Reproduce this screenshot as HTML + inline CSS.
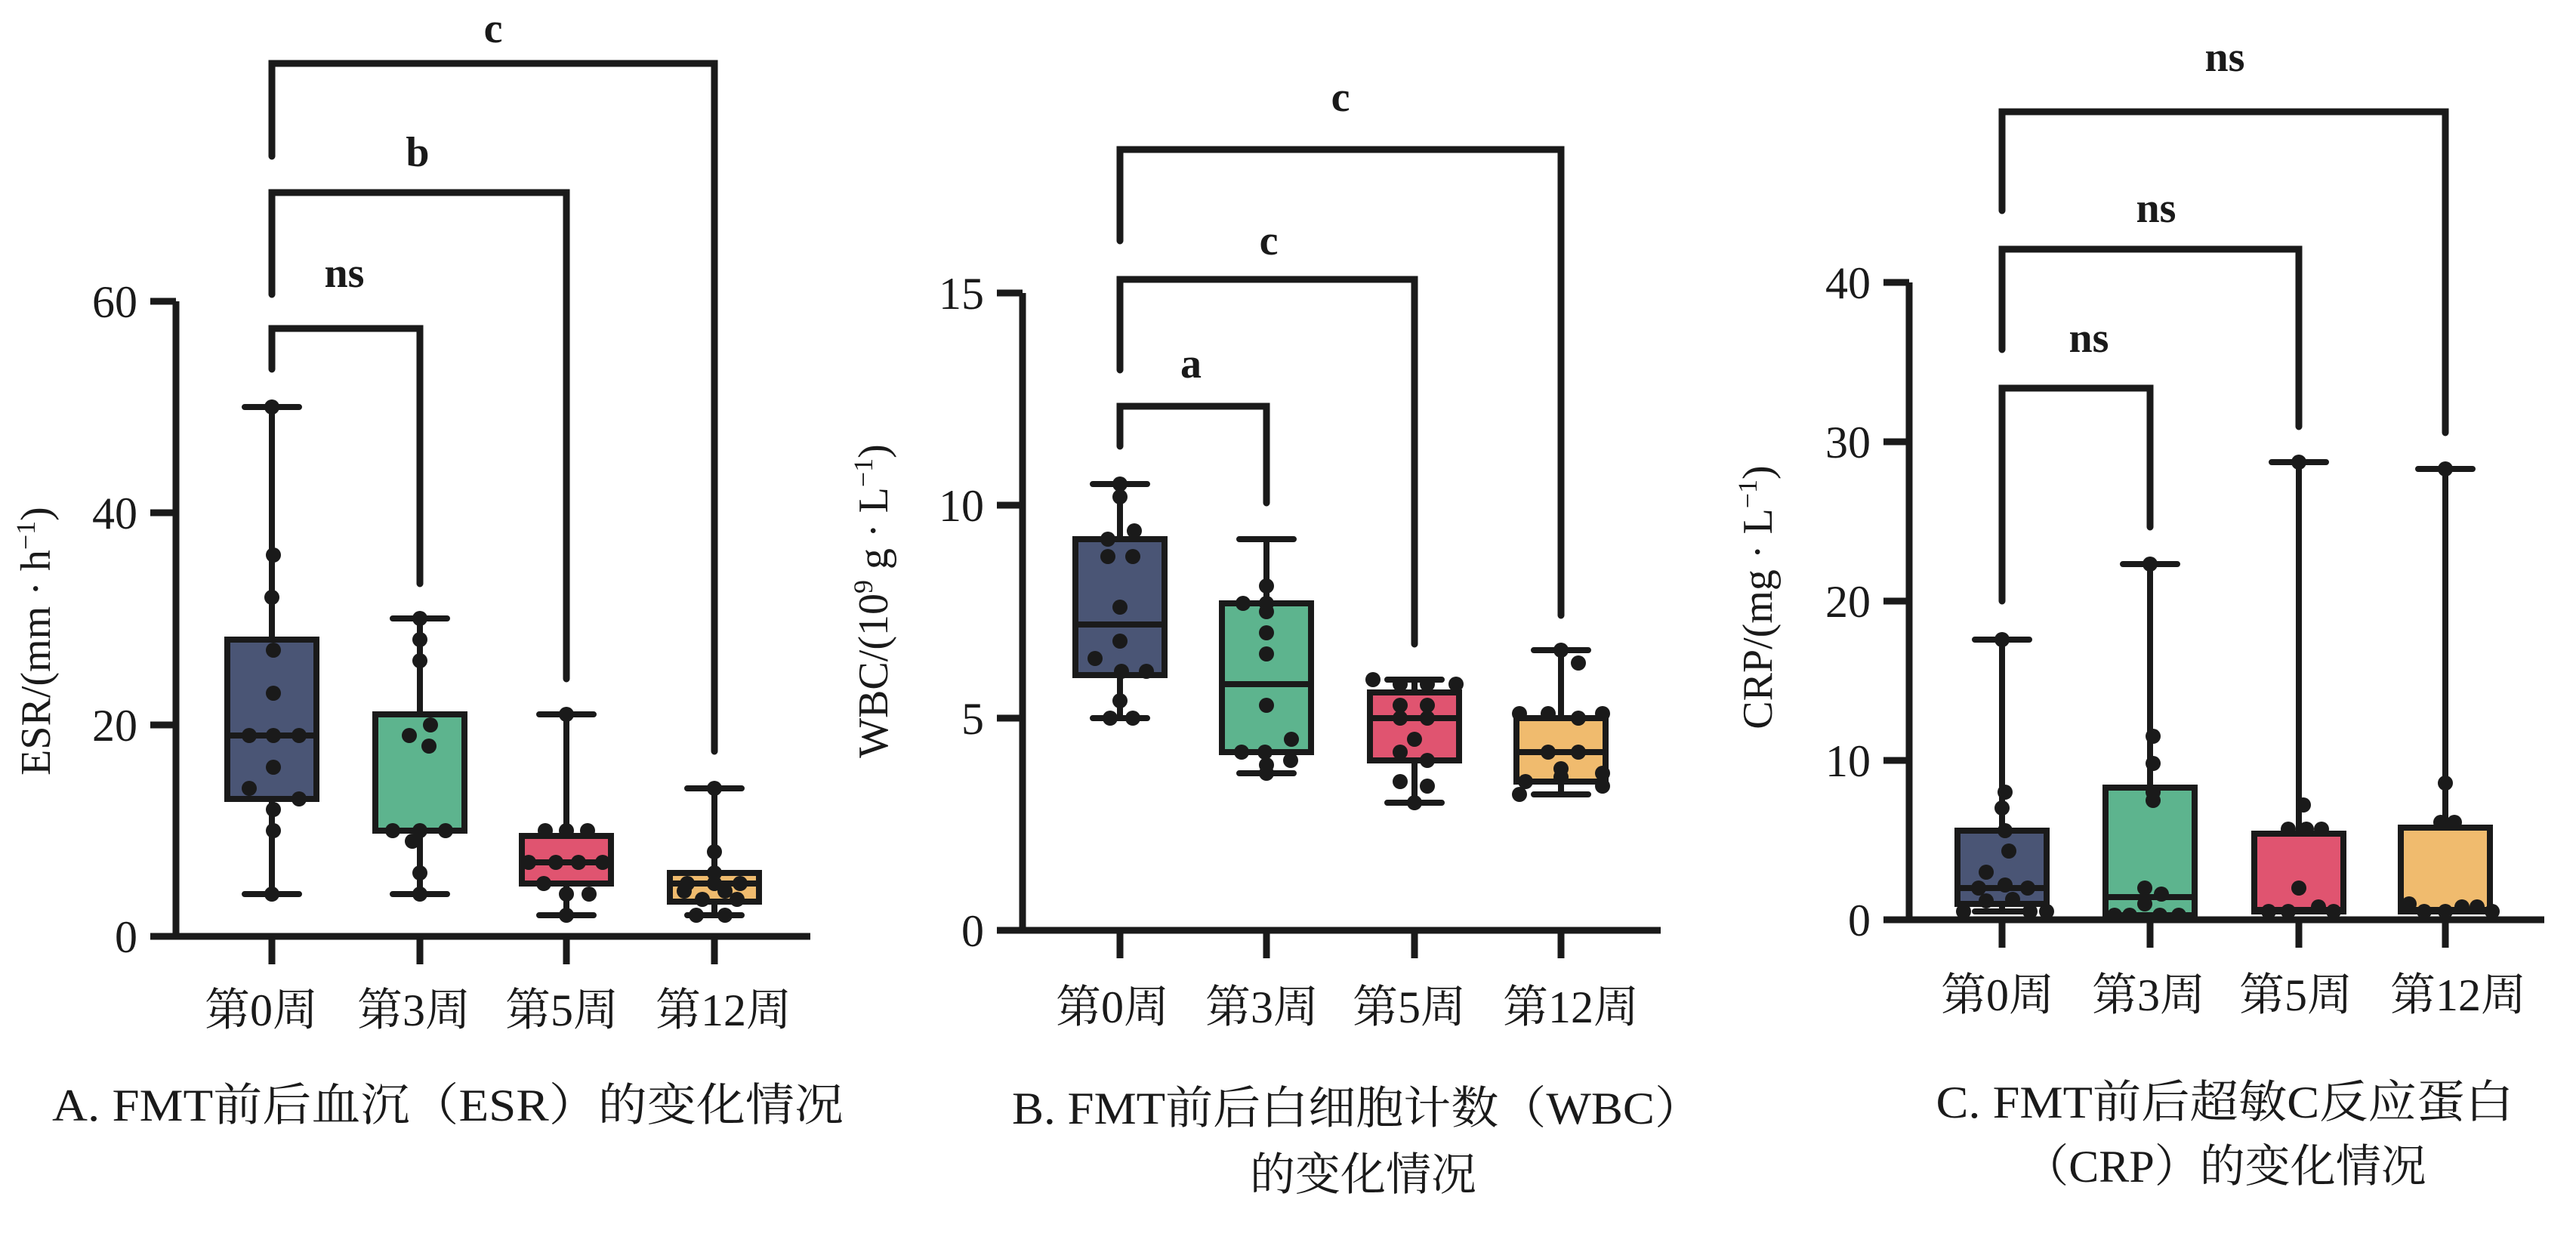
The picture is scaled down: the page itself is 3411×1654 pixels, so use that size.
<!DOCTYPE html>
<html><head><meta charset="utf-8"><style>
html,body{margin:0;padding:0;background:#fff;}
svg{display:block;}
text{font-family:"Liberation Serif","Noto Serif CJK SC",serif;fill:#1a1a1a;}
</style></head><body>
<svg width="3411" height="1654" viewBox="0 0 3411 1654" xmlns="http://www.w3.org/2000/svg">
<g stroke="#1a1a1a" stroke-linecap="butt" fill="none">
<path d="M233 399 V1240 H1073" stroke-width="9"/>
<path d="M199 399H233 M199 679H233 M199 960H233 M199 1240H233" stroke-width="9"/>
<path d="M360 1240V1277 M556 1240V1277 M750 1240V1277 M946 1240V1277" stroke-width="9"/>
<path d="M1354 388 V1232 H2199" stroke-width="9"/>
<path d="M1320 388H1354 M1320 669H1354 M1320 951H1354 M1320 1232H1354" stroke-width="9"/>
<path d="M1483 1232V1269 M1677 1232V1269 M1873 1232V1269 M2067 1232V1269" stroke-width="9"/>
<path d="M2528 374 V1218 H3369" stroke-width="9"/>
<path d="M2494 374H2528 M2494 585H2528 M2494 796H2528 M2494 1007H2528 M2494 1218H2528" stroke-width="9"/>
<path d="M2651 1218V1255 M2847 1218V1255 M3044 1218V1255 M3238 1218V1255" stroke-width="9"/>
</g>
<g stroke="#1a1a1a" stroke-width="9" stroke-linecap="round" stroke-linejoin="miter" fill="none">
<path d="M360 489V435H556V773"/>
<path d="M360 390V255H750V899"/>
<path d="M360 207V84H946V995"/>
<path d="M1483 591V538H1677V666"/>
<path d="M1483 490V370H1873V853"/>
<path d="M1483 319V198H2067V815"/>
<path d="M2651 796V514H2847V698"/>
<path d="M2651 463V330H3044V565"/>
<path d="M2651 279V148H3238V573"/>
</g>
<g stroke="#1a1a1a" stroke-width="8" stroke-linecap="round">
<path d="M360 539V1184 M324 539H396 M324 1184H396"/>
<path d="M556 819V1184 M520 819H592 M520 1184H592"/>
<path d="M750 946V1212 M714 946H786 M714 1212H786"/>
<path d="M946 1044V1212 M910 1044H982 M910 1212H982"/>
<path d="M1483 641V951 M1447 641H1519 M1447 951H1519"/>
<path d="M1677 714V1024 M1641 714H1713 M1641 1024H1713"/>
<path d="M1873 900V1063 M1837 900H1909 M1837 1063H1909"/>
<path d="M2067 861V1052 M2031 861H2103 M2031 1052H2103"/>
<path d="M2651 847V1207 M2615 847H2687 M2615 1207H2687"/>
<path d="M2847 747V1212 M2811 747H2883"/>
<path d="M3044 612V1207 M3008 612H3080"/>
<path d="M3238 621V1207 M3202 621H3274"/>
</g>
<g stroke="#1a1a1a" stroke-width="8">
<rect x="301" y="847" width="118" height="211" fill="#4a5575"/>
<rect x="497" y="946" width="118" height="154" fill="#5db48e"/>
<rect x="691" y="1107" width="118" height="63" fill="#e05470"/>
<rect x="887" y="1156" width="118" height="38" fill="#f0bb6e"/>
<rect x="1424" y="714" width="118" height="180" fill="#4a5575"/>
<rect x="1618" y="799" width="118" height="197" fill="#5db48e"/>
<rect x="1814" y="917" width="118" height="90" fill="#e05470"/>
<rect x="2008" y="951" width="118" height="84" fill="#f0bb6e"/>
<rect x="2592" y="1100" width="118" height="97" fill="#4a5575"/>
<rect x="2788" y="1043" width="118" height="169" fill="#5db48e"/>
<rect x="2985" y="1104" width="118" height="103" fill="#e05470"/>
<rect x="3179" y="1096" width="118" height="111" fill="#f0bb6e"/>
<path d="M301 974H419 M497 1100H615 M691 1142H809 M887 1170H1005 M1424 827H1542 M1618 906H1736 M1814 951H1932 M2008 996H2126 M2592 1176H2710 M2788 1188H2906 M2985 1205H3103 M3179 1205H3297"/>
</g>
<g fill="#1a1a1a">
<circle cx="360" cy="539" r="10"/><circle cx="362" cy="735" r="10"/><circle cx="360" cy="791" r="10"/><circle cx="362" cy="861" r="10"/><circle cx="362" cy="918" r="10"/><circle cx="330" cy="974" r="10"/><circle cx="362" cy="974" r="10"/><circle cx="396" cy="974" r="10"/><circle cx="362" cy="1016" r="10"/><circle cx="330" cy="1044" r="10"/><circle cx="396" cy="1058" r="10"/><circle cx="362" cy="1072" r="10"/><circle cx="362" cy="1100" r="10"/><circle cx="360" cy="1184" r="10"/>
<circle cx="556" cy="819" r="10"/><circle cx="556" cy="847" r="10"/><circle cx="556" cy="875" r="10"/><circle cx="542" cy="974" r="10"/><circle cx="570" cy="960" r="10"/><circle cx="568" cy="988" r="10"/><circle cx="520" cy="1100" r="10"/><circle cx="556" cy="1100" r="10"/><circle cx="590" cy="1100" r="10"/><circle cx="546" cy="1114" r="10"/><circle cx="556" cy="1156" r="10"/><circle cx="556" cy="1184" r="10"/>
<circle cx="750" cy="946" r="10"/><circle cx="722" cy="1100" r="10"/><circle cx="750" cy="1100" r="10"/><circle cx="778" cy="1100" r="10"/><circle cx="700" cy="1142" r="10"/><circle cx="736" cy="1142" r="10"/><circle cx="766" cy="1142" r="10"/><circle cx="798" cy="1142" r="10"/><circle cx="720" cy="1170" r="10"/><circle cx="780" cy="1184" r="10"/><circle cx="750" cy="1184" r="10"/><circle cx="750" cy="1212" r="10"/>
<circle cx="946" cy="1044" r="10"/><circle cx="946" cy="1128" r="10"/><circle cx="946" cy="1156" r="10"/><circle cx="910" cy="1170" r="10"/><circle cx="946" cy="1170" r="10"/><circle cx="980" cy="1170" r="10"/><circle cx="906" cy="1180" r="10"/><circle cx="960" cy="1180" r="10"/><circle cx="930" cy="1191" r="10"/><circle cx="976" cy="1191" r="10"/><circle cx="922" cy="1212" r="10"/><circle cx="960" cy="1212" r="10"/>
<circle cx="1483" cy="641" r="10"/><circle cx="1483" cy="658" r="10"/><circle cx="1467" cy="714" r="10"/><circle cx="1502" cy="703" r="10"/><circle cx="1467" cy="737" r="10"/><circle cx="1500" cy="737" r="10"/><circle cx="1483" cy="804" r="10"/><circle cx="1483" cy="849" r="10"/><circle cx="1450" cy="872" r="10"/><circle cx="1485" cy="889" r="10"/><circle cx="1518" cy="889" r="10"/><circle cx="1483" cy="928" r="10"/><circle cx="1470" cy="951" r="10"/><circle cx="1500" cy="951" r="10"/>
<circle cx="1677" cy="776" r="10"/><circle cx="1646" cy="799" r="10"/><circle cx="1677" cy="799" r="10"/><circle cx="1677" cy="810" r="10"/><circle cx="1677" cy="838" r="10"/><circle cx="1677" cy="866" r="10"/><circle cx="1677" cy="934" r="10"/><circle cx="1644" cy="996" r="10"/><circle cx="1675" cy="996" r="10"/><circle cx="1710" cy="979" r="10"/><circle cx="1709" cy="1007" r="10"/><circle cx="1677" cy="1013" r="10"/><circle cx="1677" cy="1024" r="10"/>
<circle cx="1818" cy="900" r="10"/><circle cx="1854" cy="906" r="10"/><circle cx="1890" cy="906" r="10"/><circle cx="1928" cy="906" r="10"/><circle cx="1854" cy="934" r="10"/><circle cx="1890" cy="934" r="10"/><circle cx="1854" cy="951" r="10"/><circle cx="1890" cy="951" r="10"/><circle cx="1873" cy="979" r="10"/><circle cx="1854" cy="996" r="10"/><circle cx="1890" cy="1007" r="10"/><circle cx="1854" cy="1035" r="10"/><circle cx="1890" cy="1041" r="10"/><circle cx="1873" cy="1063" r="10"/>
<circle cx="2067" cy="861" r="10"/><circle cx="2090" cy="878" r="10"/><circle cx="2012" cy="945" r="10"/><circle cx="2050" cy="945" r="10"/><circle cx="2122" cy="945" r="10"/><circle cx="2090" cy="951" r="10"/><circle cx="2050" cy="996" r="10"/><circle cx="2090" cy="996" r="10"/><circle cx="2067" cy="1018" r="10"/><circle cx="2122" cy="1024" r="10"/><circle cx="2020" cy="1035" r="10"/><circle cx="2122" cy="1041" r="10"/><circle cx="2067" cy="1029" r="10"/><circle cx="2012" cy="1052" r="10"/>
<circle cx="2651" cy="847" r="10"/><circle cx="2655" cy="1049" r="10"/><circle cx="2651" cy="1070" r="10"/><circle cx="2655" cy="1100" r="10"/><circle cx="2660" cy="1127" r="10"/><circle cx="2630" cy="1155" r="10"/><circle cx="2620" cy="1176" r="10"/><circle cx="2655" cy="1172" r="10"/><circle cx="2685" cy="1176" r="10"/><circle cx="2630" cy="1193" r="10"/><circle cx="2665" cy="1191" r="10"/><circle cx="2600" cy="1207" r="10"/><circle cx="2688" cy="1207" r="10"/><circle cx="2710" cy="1207" r="10"/>
<circle cx="2847" cy="747" r="10"/><circle cx="2851" cy="975" r="10"/><circle cx="2851" cy="1011" r="10"/><circle cx="2851" cy="1049" r="10"/><circle cx="2851" cy="1060" r="10"/><circle cx="2840" cy="1176" r="10"/><circle cx="2862" cy="1184" r="10"/><circle cx="2840" cy="1197" r="10"/><circle cx="2820" cy="1212" r="10"/><circle cx="2860" cy="1212" r="10"/><circle cx="2885" cy="1212" r="10"/><circle cx="2800" cy="1212" r="10"/>
<circle cx="3044" cy="612" r="10"/><circle cx="3050" cy="1066" r="10"/><circle cx="3030" cy="1098" r="10"/><circle cx="3054" cy="1098" r="10"/><circle cx="3074" cy="1098" r="10"/><circle cx="3044" cy="1176" r="10"/><circle cx="3070" cy="1201" r="10"/><circle cx="3004" cy="1207" r="10"/><circle cx="3030" cy="1207" r="10"/><circle cx="3090" cy="1207" r="10"/>
<circle cx="3238" cy="621" r="10"/><circle cx="3238" cy="1037" r="10"/><circle cx="3232" cy="1089" r="10"/><circle cx="3250" cy="1089" r="10"/><circle cx="3190" cy="1197" r="10"/><circle cx="3260" cy="1201" r="10"/><circle cx="3280" cy="1201" r="10"/><circle cx="3210" cy="1207" r="10"/><circle cx="3238" cy="1207" r="10"/><circle cx="3300" cy="1207" r="10"/>
</g>
<g font-size="60" text-anchor="end">
<text x="182" y="420">60</text><text x="182" y="700">40</text><text x="182" y="981">20</text><text x="182" y="1261">0</text>
<text x="1303" y="409">15</text><text x="1303" y="690">10</text><text x="1303" y="972">5</text><text x="1303" y="1253">0</text>
<text x="2477" y="395">40</text><text x="2477" y="606">30</text><text x="2477" y="817">20</text><text x="2477" y="1028">10</text><text x="2477" y="1239">0</text>
</g>
<g font-size="56" text-anchor="middle" font-weight="bold">
<text x="653" y="56">c</text><text x="553" y="220">b</text><text x="456" y="380">ns</text>
<text x="1775" y="147">c</text><text x="1680" y="337">c</text><text x="1577" y="500">a</text>
<text x="2946" y="94">ns</text><text x="2855" y="294">ns</text><text x="2766" y="466">ns</text>
</g>
<g font-size="60" text-anchor="middle">
<text x="346" y="1358">第0周</text><text x="548" y="1358">第3周</text><text x="744" y="1358">第5周</text><text x="958" y="1358">第12周</text>
<text x="1473" y="1354">第0周</text><text x="1671" y="1354">第3周</text><text x="1866" y="1354">第5周</text><text x="2080" y="1354">第12周</text>
<text x="2645" y="1338">第0周</text><text x="2845" y="1338">第3周</text><text x="3040" y="1338">第5周</text><text x="3255" y="1338">第12周</text>
</g>
<g font-size="56" text-anchor="middle">
<text transform="translate(66,849) rotate(-90)">ESR/(mm · h<tspan font-size="36" dy="-20">−1</tspan><tspan dy="20">)</tspan></text>
<text transform="translate(1175,796) rotate(-90)">WBC/(10<tspan font-size="36" dy="-20">9</tspan><tspan dy="20"> g · L</tspan><tspan font-size="36" dy="-20">−1</tspan><tspan dy="20">)</tspan></text>
<text transform="translate(2346,791) rotate(-90)">CRP/(mg · L<tspan font-size="36" dy="-20">−1</tspan><tspan dy="20">)</tspan></text>
</g>
<g font-size="60" text-anchor="middle">
<text x="593" y="1484" textLength="1048" lengthAdjust="spacingAndGlyphs">A. FMT前后血沉（ESR）的变化情况</text>
<text x="1797" y="1488" textLength="914" lengthAdjust="spacingAndGlyphs">B. FMT前后白细胞计数（WBC）</text>
<text x="1805" y="1576">的变化情况</text>
<text x="2946" y="1480" textLength="765" lengthAdjust="spacingAndGlyphs">C. FMT前后超敏C反应蛋白</text>
<text x="2946" y="1565">（CRP）的变化情况</text>
</g>
</svg>
</body></html>
